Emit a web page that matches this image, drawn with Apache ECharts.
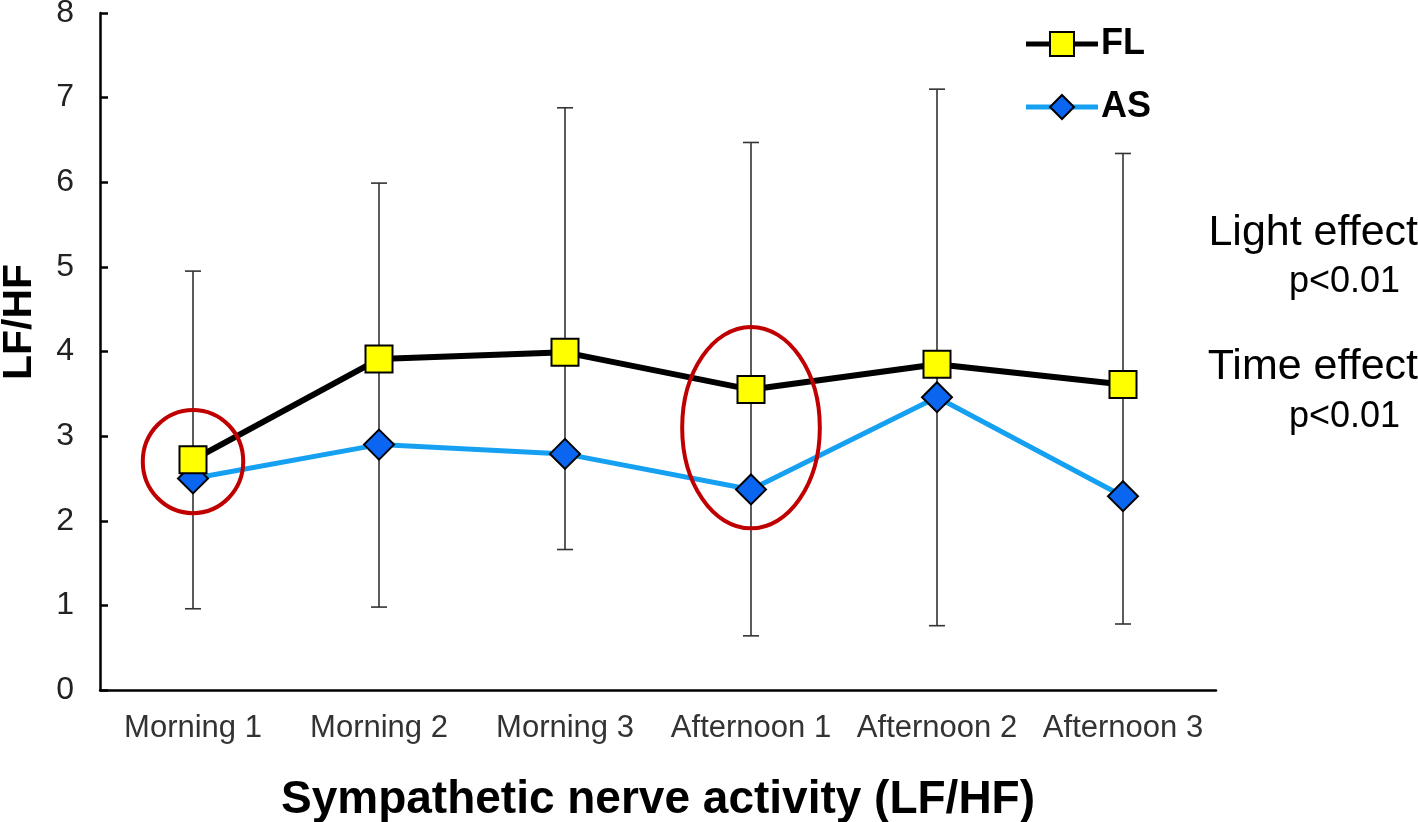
<!DOCTYPE html>
<html>
<head>
<meta charset="utf-8">
<script src="https://cdn.jsdelivr.net/npm/echarts@6/dist/echarts.min.js"></script>
<style>
  html, body { margin: 0; padding: 0; background: #fff; }
  #chart { width: 1418px; height: 822px; }
</style>
</head>
<body>
<div id="chart"></div>
<script>
const categories = ['Morning 1', 'Morning 2', 'Morning 3', 'Afternoon 1', 'Afternoon 2', 'Afternoon 3'];
const flValues = [2.72, 3.91, 3.99, 3.55, 3.85, 3.61];
const asValues = [2.50, 2.90, 2.79, 2.37, 3.46, 2.29];
// error bar ends: upper belongs to FL, lower to AS
const errUpper = [4.95, 5.99, 6.88, 6.47, 7.10, 6.34];
const errLower = [0.96, 0.98, 1.66, 0.64, 0.76, 0.78];
const yTicks = [0, 1, 2, 3, 4, 5, 6, 7, 8];
// red highlight ellipses: [category index, centre value, half width (categories), half height (value)]
const highlights = [
  [0, 2.70, 0.27, 0.61],
  [3, 3.10, 0.37, 1.19]
];

const chart = echarts.init(document.getElementById('chart'));

const option = {
  animation: false,
  textStyle: { fontFamily: 'Liberation Sans, Arial, sans-serif' },
  grid: { left: 100, right: 202, top: 13, bottom: 132, containLabel: false, outerBoundsMode: 'none' },
  legend: {
    orient: 'vertical',
    right: 262,
    top: 21,
    itemWidth: 72,
    itemHeight: 30,
    itemGap: 27,
    lineStyle: { width: 5 },
    textStyle: { fontSize: 36, fontWeight: 'bold', color: '#000', padding: [0, 0, 0, -2] },
    data: ['FL', 'AS']
  },
  xAxis: {
    type: 'category',
    data: categories,
    boundaryGap: true,
    axisLine: { lineStyle: { color: '#000', width: 2.5 } },
    axisTick: { inside: true, length: 8, lineStyle: { color: '#000', width: 2.5 } },
    axisLabel: { interval: 0, fontSize: 31, color: '#333', margin: 23 },
    name: 'Sympathetic nerve activity (LF/HF)',
    nameLocation: 'middle',
    nameGap: 87,
    nameTextStyle: { fontSize: 46, fontWeight: 'bold', color: '#000' }
  },
  yAxis: {
    type: 'value',
    min: yTicks[0],
    max: yTicks[yTicks.length - 1],
    interval: 1,
    axisLine: { show: true, lineStyle: { color: '#000', width: 2.5 } },
    axisTick: { show: true, inside: true, length: 8, lineStyle: { color: '#000', width: 2.5 } },
    axisLabel: { fontSize: 32, color: '#222', margin: 26 },
    splitLine: { show: false }
  },
  graphic: [
    { type: 'text', x: 20, y: 322, rotation: Math.PI / 2,
      style: { text: 'LF/HF', font: 'bold 41px Liberation Sans', fill: '#000', align: 'center', verticalAlign: 'middle' } },
    { type: 'text', right: 0, top: 212,
      style: { text: 'Light effect', font: '43px Liberation Sans', fill: '#000' } },
    { type: 'text', right: 18, top: 264,
      style: { text: 'p<0.01', font: '36px Liberation Sans', fill: '#000' } },
    { type: 'text', right: 0, top: 346,
      style: { text: 'Time effect', font: '43px Liberation Sans', fill: '#000' } },
    { type: 'text', right: 18, top: 399,
      style: { text: 'p<0.01', font: '36px Liberation Sans', fill: '#000' } }
  ],
  series: [
    {
      type: 'custom',
      name: 'error',
      z: 1,
      silent: true,
      data: categories.map((c, i) => [i, errLower[i], errUpper[i]]),
      renderItem: function (params, api) {
        const lo = api.coord([api.value(0), api.value(1)]);
        const hi = api.coord([api.value(0), api.value(2)]);
        const cap = 8;
        const st = { stroke: '#333', lineWidth: 1.6 };
        return {
          type: 'group',
          children: [
            { type: 'line', shape: { x1: lo[0], y1: lo[1], x2: hi[0], y2: hi[1] }, style: st },
            { type: 'line', shape: { x1: hi[0] - cap, y1: hi[1], x2: hi[0] + cap, y2: hi[1] }, style: st },
            { type: 'line', shape: { x1: lo[0] - cap, y1: lo[1], x2: lo[0] + cap, y2: lo[1] }, style: st }
          ]
        };
      }
    },
    {
      name: 'FL',
      type: 'line',
      z: 3,
      data: flValues,
      symbol: 'rect',
      symbolSize: 27,
      lineStyle: { color: '#000', width: 6 },
      itemStyle: { color: '#ffff00', borderColor: '#000', borderWidth: 2 }
    },
    {
      name: 'AS',
      type: 'line',
      z: 2,
      data: asValues,
      symbol: 'diamond',
      symbolSize: [30, 30],
      lineStyle: { color: '#16a0f2', width: 5 },
      itemStyle: { color: '#0a66f0', borderColor: '#000', borderWidth: 2 }
    },
    {
      type: 'custom',
      name: 'highlight',
      z: 5,
      silent: true,
      data: highlights,
      renderItem: function (params, api) {
        const c = api.coord([api.value(0), api.value(1)]);
        const band = api.size([1, 0])[0];
        const unit = api.size([0, 1])[1];
        return {
          type: 'ellipse',
          shape: { cx: c[0], cy: c[1], rx: api.value(2) * band, ry: api.value(3) * unit },
          style: { fill: 'none', stroke: '#c00000', lineWidth: 4 }
        };
      }
    }
  ]
};

chart.setOption(option);
</script>
</body>
</html>
